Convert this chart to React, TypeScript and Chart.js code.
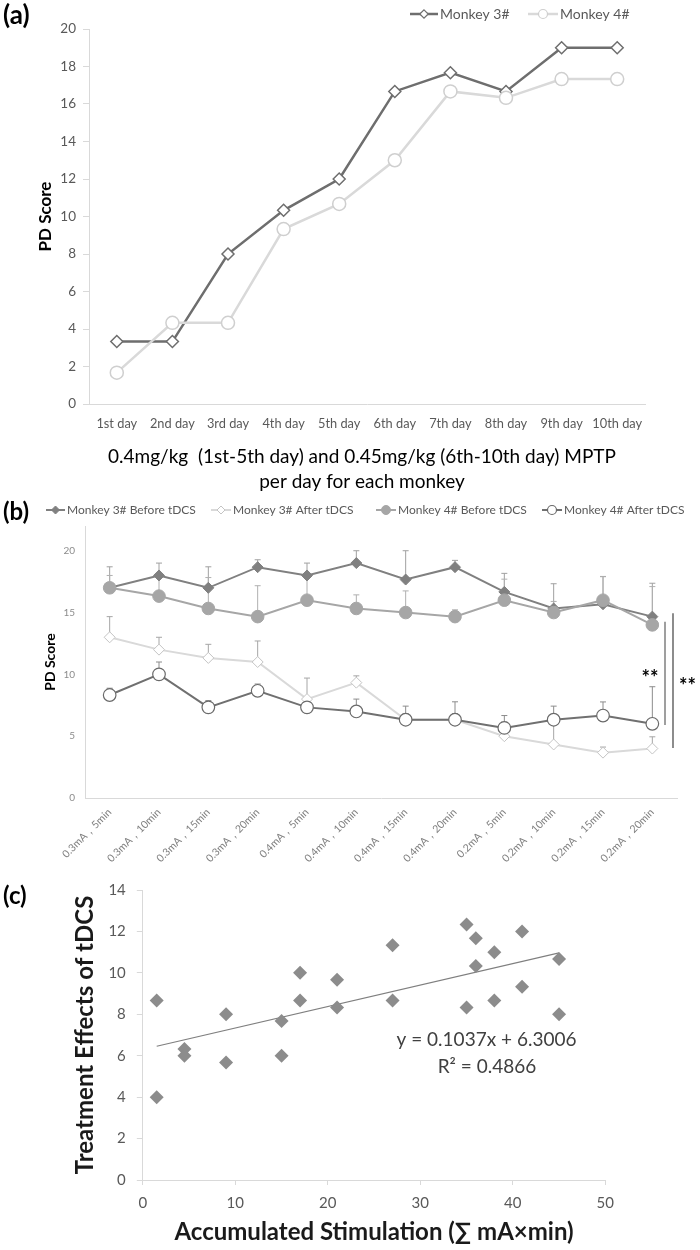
import React, { useEffect, useRef } from 'react';
import { Chart, registerables } from 'chart.js';

Chart.register(...registerables);

const FONT = 'Lato, "Open Sans", "DejaVu Sans", sans-serif';

// ---------- Panel (a) data ----------
const dayLabels = ['1st day', '2nd day', '3rd day', '4th day', '5th day', '6th day', '7th day', '8th day', '9th day', '10th day'];
const monkey3Scores = [3.33, 3.33, 8, 10.33, 12, 16.67, 17.67, 16.67, 19, 19];
const monkey4Scores = [1.67, 4.33, 4.33, 9.33, 10.67, 13, 16.67, 16.33, 17.33, 17.33];
const xTitleA = ['0.4mg/kg  (1st-5th day) and 0.45mg/kg (6th-10th day) MPTP', 'per day for each monkey'];

// ---------- Panel (b) data ----------
const stimLabels = [
  '0.3mA，5min', '0.3mA，10min', '0.3mA，15min', '0.3mA，20min',
  '0.4mA，5min', '0.4mA，10min', '0.4mA，15min', '0.4mA，20min',
  '0.2mA，5min', '0.2mA，10min', '0.2mA，15min', '0.2mA，20min',
];
const m3Before = [17, 18, 17, 18.67, 18, 19, 17.67, 18.67, 16.67, 15.33, 15.67, 14.67];
const m3BeforeErr = [1.7, 1, 1.7, 0.6, 1, 1, 2.33, 0.55, 1.5, 2.0, 2.25, 2.7];
const m3After = [13, 12, 11.33, 11, 8, 9.33, 6.33, 6.33, 5, 4.33, 3.67, 4];
const m3AfterErr = [1.67, 1, 1.1, 1.7, 1.7, 0.55, 0.5, 0.5, 1.15, 2, 0.45, 0.95];
const m4Before = [17, 16.33, 15.33, 14.67, 16, 15.33, 15, 14.67, 16, 15, 16, 14];
const m4BeforeErr = [1, 1.67, 2.5, 2.5, 2, 1.1, 1.75, 0.55, 1.7, 0.9, 1.9, 3.1];
const m4After = [8.33, 10, 7.33, 8.67, 7.33, 7, 6.33, 6.33, 5.67, 6.33, 6.67, 6];
const m4AfterErr = [0.55, 1, 0.55, 0.55, 0.5, 1, 1.1, 1.45, 1, 1.1, 1.1, 3];
const sigBrackets = [
  { from: 14.25, to: 5.9, label: '**', labelValue: 10.0 },
  { from: 14.95, to: 4.05, label: '**', labelValue: 9.4 },
];

// ---------- Panel (c) data ----------
const accumulatedStim = [1.5, 1.5, 4.5, 4.5, 9, 9, 15, 15, 17, 17, 21, 21, 27, 27, 35, 35, 36, 36, 38, 38, 41, 41, 45, 45];
const treatmentEffects = [8.67, 4, 6.33, 6, 8, 5.67, 7.67, 6, 10, 8.67, 9.67, 8.33, 11.33, 8.67, 12.33, 8.33, 11.67, 10.33, 11, 8.67, 12, 9.33, 10.67, 8];
const trendSlope = 0.1037;
const trendIntercept = 6.3006;
const trendText = ['y = 0.1037x + 6.3006', 'R² = 0.4866'];

// ---------- drawing helpers ----------
function drawText(ctx: CanvasRenderingContext2D, str: string, x: number, y: number, weight: string, size: number, color: string, align: CanvasTextAlign, baseline: CanvasTextBaseline = 'middle') {
  ctx.save();
  ctx.font = `${weight} ${size}px ${FONT}`;
  ctx.fillStyle = color;
  ctx.textAlign = align;
  ctx.textBaseline = baseline;
  ctx.fillText(str, x, y);
  ctx.restore();
}

function drawMarker(ctx: CanvasRenderingContext2D, style: string, x: number, y: number, r: number, fill: string, stroke: string, lw: number) {
  ctx.save();
  ctx.beginPath();
  if (style === 'rectRot') {
    ctx.moveTo(x, y - r);
    ctx.lineTo(x + r, y);
    ctx.lineTo(x, y + r);
    ctx.lineTo(x - r, y);
    ctx.closePath();
  } else {
    ctx.arc(x, y, r, 0, Math.PI * 2);
  }
  ctx.fillStyle = fill;
  ctx.fill();
  if (lw > 0) {
    ctx.lineWidth = lw;
    ctx.strokeStyle = stroke;
    ctx.stroke();
  }
  ctx.restore();
}

function legendItem(ctx: CanvasRenderingContext2D, ds: any, x1: number, x2: number, y: number, r: number, size: number) {
  ctx.save();
  ctx.strokeStyle = ds.borderColor;
  ctx.lineWidth = ds.borderWidth;
  ctx.beginPath();
  ctx.moveTo(x1, y);
  ctx.lineTo(x2, y);
  ctx.stroke();
  ctx.restore();
  drawMarker(ctx, ds.pointStyle, (x1 + x2) / 2, y, r, ds.pointBackgroundColor, ds.pointBorderColor, Math.min(ds.pointBorderWidth, 1.2));
  drawText(ctx, ds.label, x2 + 2, y, 'normal', size, '#595959', 'left');
}

// ---------- Panel (a) ----------
function configA(): any {
  const tickFont = { family: FONT, size: 13.5 };
  return {
    type: 'line',
    data: {
      labels: dayLabels,
      datasets: [
        {
          label: 'Monkey 3#', data: monkey3Scores, borderColor: '#6e6e6e', borderWidth: 2.5,
          pointStyle: 'rectRot', pointRadius: 6, pointBackgroundColor: '#ffffff', pointBorderColor: '#6e6e6e', pointBorderWidth: 1.5, order: 1,
        },
        {
          label: 'Monkey 4#', data: monkey4Scores, borderColor: '#d9d9d9', borderWidth: 2.5,
          pointStyle: 'circle', pointRadius: 6.5, pointBackgroundColor: '#ffffff', pointBorderColor: '#cfcfcf', pointBorderWidth: 1.5, order: 0,
        },
      ],
    },
    options: {
      responsive: false,
      animation: false,
      layout: { padding: { left: 0, top: 29, right: 55, bottom: 2 } },
      plugins: { legend: { display: false }, tooltip: { enabled: false } },
      scales: {
        x: {
          offset: true,
          grid: { display: false, drawTicks: false, offset: true },
          border: { color: '#d9d9d9', width: 1 },
          ticks: { font: { family: FONT, size: 12.8 }, color: '#595959', padding: 12, maxRotation: 0, autoSkip: false },
          afterFit: (s: any) => { s.height = 90; },
        },
        y: {
          min: 0, max: 20,
          ticks: { stepSize: 2, font: tickFont, color: '#595959', padding: 7 },
          grid: { drawOnChartArea: false, color: '#d9d9d9', tickLength: 6 },
          border: { color: '#d9d9d9', width: 1 },
          title: { display: true, text: 'PD Score', font: { family: FONT, size: 17, weight: 'bold' }, color: '#000000', padding: { top: 35, bottom: 0 } },
          afterFit: (s: any) => { s.width = 89; },
        },
      },
    },
    plugins: [{
      id: 'panelA',
      afterDraw(chart: any) {
        const ctx = chart.ctx;
        const ds = chart.data.datasets;
        drawText(ctx, '(a)', 3, 16, 'bold', 26, '#000000', 'left');
        legendItem(ctx, ds[0], 410, 438, 14, 4.2, 14);
        legendItem(ctx, ds[1], 528, 558, 14, 4.5, 14);
        drawText(ctx, xTitleA[0], 362, 457, 'normal', 19, '#000000', 'center');
        drawText(ctx, xTitleA[1], 362, 482, 'normal', 19, '#000000', 'center');
      },
    }],
  };
}

// ---------- Panel (b) ----------
function configB(): any {
  return {
    type: 'line',
    data: {
      labels: stimLabels,
      datasets: [
        {
          label: 'Monkey 3# Before tDCS', data: m3Before, errorBars: m3BeforeErr, errorBarColor: '#a0a0a0',
          borderColor: '#808080', borderWidth: 2, pointStyle: 'rectRot', pointRadius: 5.5,
          pointBackgroundColor: '#808080', pointBorderColor: '#808080', pointBorderWidth: 1, order: 3,
        },
        {
          label: 'Monkey 3# After tDCS', data: m3After, errorBars: m3AfterErr, errorBarColor: '#a6a6a6',
          borderColor: '#d9d9d9', borderWidth: 2, pointStyle: 'rectRot', pointRadius: 5.5,
          pointBackgroundColor: '#ffffff', pointBorderColor: '#c4c4c4', pointBorderWidth: 1, order: 2,
        },
        {
          label: 'Monkey 4# Before tDCS', data: m4Before, errorBars: m4BeforeErr, errorBarColor: '#b0b0b0',
          borderColor: '#a6a6a6', borderWidth: 2, pointStyle: 'circle', pointRadius: 6.3,
          pointBackgroundColor: '#a6a6a6', pointBorderColor: '#a6a6a6', pointBorderWidth: 1, order: 1,
        },
        {
          label: 'Monkey 4# After tDCS', data: m4After, errorBars: m4AfterErr, errorBarColor: '#8c8c8c',
          borderColor: '#707070', borderWidth: 2, pointStyle: 'circle', pointRadius: 6.3,
          pointBackgroundColor: '#ffffff', pointBorderColor: '#6a6a6a', pointBorderWidth: 1.2, order: 0,
        },
      ],
    },
    options: {
      responsive: false,
      animation: false,
      layout: { padding: { left: 0, top: 30, right: 23, bottom: 2 } },
      plugins: { legend: { display: false }, tooltip: { enabled: false } },
      scales: {
        x: {
          offset: true,
          grid: { display: false, drawTicks: false, offset: true },
          border: { color: '#d9d9d9', width: 1 },
          ticks: { font: { family: FONT, size: 10.5 }, color: '#7f7f7f', minRotation: 45, maxRotation: 45, autoSkip: false, padding: 8 },
          afterFit: (s: any) => { s.height = 70; },
        },
        y: {
          min: 0, max: 22,
          afterBuildTicks: (s: any) => { s.ticks = s.ticks.filter((t: any) => t.value % 5 === 0); },
          ticks: { stepSize: 5, font: { family: FONT, size: 10 }, color: '#8c8c8c', padding: 10 },
          grid: { display: false, drawTicks: false },
          border: { color: '#d9d9d9', width: 1 },
          title: { display: true, text: 'PD Score', font: { family: FONT, size: 14, weight: 'bold' }, color: '#000000', padding: { top: 41.6, bottom: 0 } },
          afterFit: (s: any) => { s.width = 85; },
        },
      },
    },
    plugins: [{
      id: 'panelB',
      beforeDatasetsDraw(chart: any) {
        const ctx = chart.ctx;
        const yS = chart.scales.y;
        chart.data.datasets.forEach((ds: any, i: number) => {
          const meta = chart.getDatasetMeta(i);
          const errs = ds.errorBars;
          if (!errs) return;
          ctx.save();
          ctx.strokeStyle = ds.errorBarColor;
          ctx.lineWidth = 1;
          meta.data.forEach((pt: any, j: number) => {
            const v = ds.data[j];
            const base = yS.getPixelForValue(v);
            const top = yS.getPixelForValue(v + errs[j]);
            ctx.beginPath();
            ctx.moveTo(pt.x, base);
            ctx.lineTo(pt.x, top);
            ctx.moveTo(pt.x - 3, top);
            ctx.lineTo(pt.x + 3, top);
            ctx.stroke();
          });
          ctx.restore();
        });
      },
      afterDraw(chart: any) {
        const ctx = chart.ctx;
        const ds = chart.data.datasets;
        const yS = chart.scales.y;
        drawText(ctx, '(b)', 3, 16, 'bold', 24, '#000000', 'left');
        legendItem(ctx, ds[0], 46, 65, 14, 4, 12);
        legendItem(ctx, ds[1], 211, 231, 14, 4, 12);
        legendItem(ctx, ds[2], 376, 396, 14, 4.5, 12);
        legendItem(ctx, ds[3], 542, 562, 14, 4.5, 12);
        const bx = [665, 673];
        const bc = ['#7f7f7f', '#404040'];
        const bw = [1.5, 1.2];
        const lx = [650, 687.5];
        sigBrackets.forEach((b, k) => {
          ctx.save();
          ctx.strokeStyle = bc[k];
          ctx.lineWidth = bw[k];
          ctx.beginPath();
          ctx.moveTo(bx[k], yS.getPixelForValue(b.from));
          ctx.lineTo(bx[k], yS.getPixelForValue(b.to));
          ctx.stroke();
          ctx.restore();
          drawText(ctx, b.label, lx[k], yS.getPixelForValue(b.labelValue) + 11, 'bold', 20, '#000000', 'center', 'alphabetic');
        });
      },
    }],
  };
}

// ---------- Panel (c) ----------
function configC(): any {
  const xMin = Math.min(...accumulatedStim);
  const xMax = Math.max(...accumulatedStim);
  const tickFont = { family: FONT, size: 15 };
  return {
    type: 'scatter',
    data: {
      datasets: [
        {
          label: 'Treatment effects',
          data: accumulatedStim.map((x, i) => ({ x, y: treatmentEffects[i] })),
          pointStyle: 'rectRot', pointRadius: 7, pointBackgroundColor: '#8c8c8c', pointBorderColor: '#8c8c8c', pointBorderWidth: 0,
          order: 0,
        },
        {
          label: 'Linear trend',
          data: [
            { x: xMin, y: trendSlope * xMin + trendIntercept },
            { x: xMax, y: trendSlope * xMax + trendIntercept },
          ],
          showLine: true, borderColor: '#7f7f7f', borderWidth: 1.2, pointRadius: 0, order: 1,
        },
      ],
    },
    options: {
      responsive: false,
      animation: false,
      layout: { padding: { left: 0, top: 19, right: 94.7, bottom: 2 } },
      plugins: { legend: { display: false }, tooltip: { enabled: false } },
      scales: {
        x: {
          type: 'linear', min: 0, max: 50,
          ticks: { stepSize: 10, font: tickFont, color: '#595959', padding: 9 },
          grid: { drawOnChartArea: false, color: '#d9d9d9', tickLength: 5 },
          border: { color: '#d9d9d9', width: 1 },
          title: { display: true, text: 'Accumulated Stimulation (∑ mA×min)', font: { family: FONT, size: 24, weight: 'bold' }, color: '#1a1a1a', padding: { top: 0, bottom: 1.6 } },
          afterFit: (s: any) => { s.height = 68; },
        },
        y: {
          min: 0, max: 14,
          ticks: { stepSize: 2, font: tickFont, color: '#595959', padding: 11 },
          grid: { drawOnChartArea: false, color: '#d9d9d9', tickLength: 6 },
          border: { color: '#d9d9d9', width: 1 },
          title: { display: true, text: 'Treatment Effects of tDCS', font: { family: FONT, size: 24, weight: 'bold' }, color: '#1a1a1a', padding: { top: 70.6, bottom: 0 } },
          afterFit: (s: any) => { s.width = 142.8; },
        },
      },
    },
    plugins: [{
      id: 'panelC',
      afterDraw(chart: any) {
        const ctx = chart.ctx;
        drawText(ctx, '(c)', 3, 26, 'bold', 24, '#000000', 'left');
        drawText(ctx, trendText[0], 486.5, 170, 'normal', 19, '#404040', 'center');
        drawText(ctx, trendText[1], 487, 196.7, 'normal', 19, '#404040', 'center');
      },
    }],
  };
}

function ChartCanvas({ make, top, height }: { make: () => any; top: number; height: number }) {
  const ref = useRef<HTMLCanvasElement>(null);
  useEffect(() => {
    const chart = new Chart(ref.current as HTMLCanvasElement, make());
    return () => chart.destroy();
  }, []);
  return (
    <canvas
      ref={ref}
      width={700}
      height={height}
      style={{ position: 'absolute', left: 0, top, width: 700, height }}
    />
  );
}

export default function App() {
  return (
    <div style={{ position: 'absolute', left: 0, top: 0, width: 700, height: 1250, background: '#ffffff', overflow: 'hidden' }}>
      <ChartCanvas make={configA} top={0} height={496} />
      <ChartCanvas make={configB} top={496} height={374} />
      <ChartCanvas make={configC} top={870} height={380} />
    </div>
  );
}
